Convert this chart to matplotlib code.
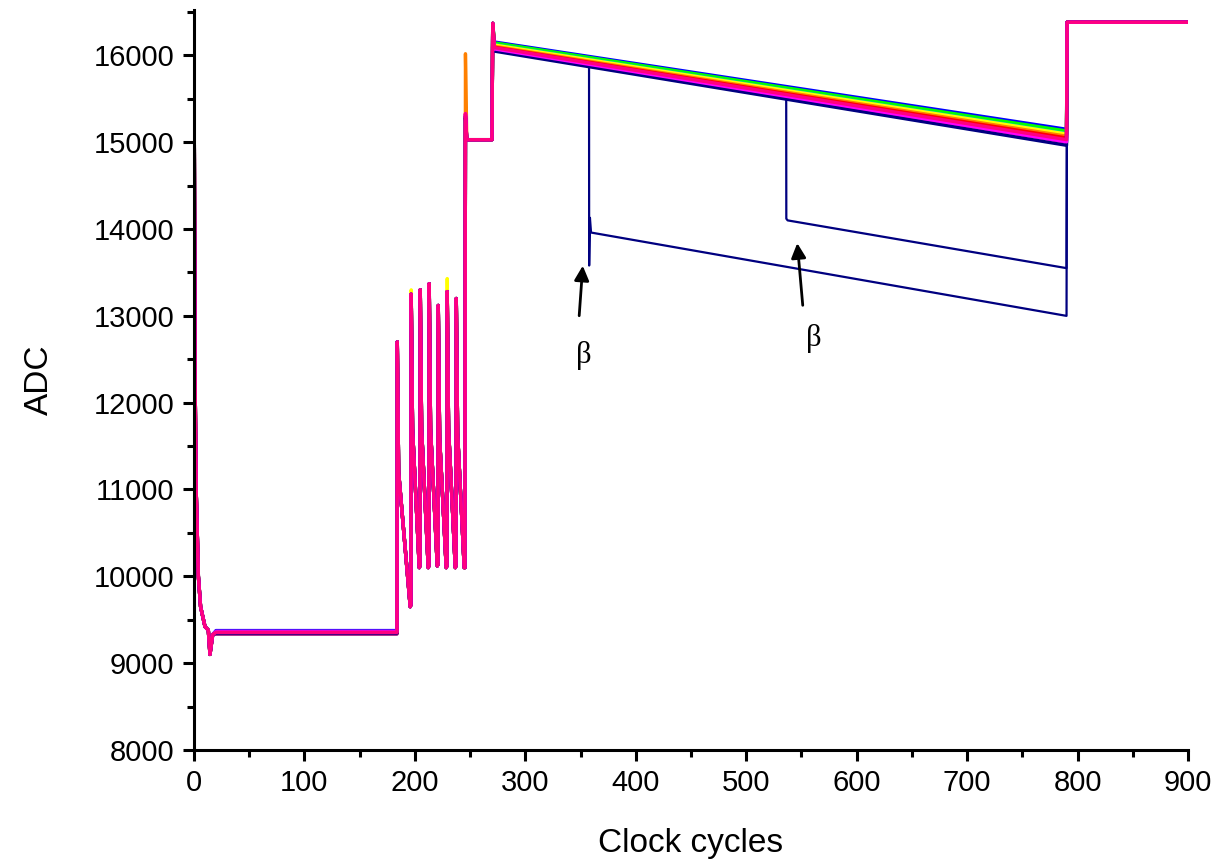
import numpy as np
import matplotlib
matplotlib.use("Agg")
import matplotlib.pyplot as plt
from matplotlib.ticker import MultipleLocator

# ---- data (ADC counts vs clock cycles) ----
# reset / settling at the start
drop_x = [0, 1, 2, 4, 6, 10, 13, 14.5, 17, 20]
drop_y = [16383, 12300, 11000, 10000, 9650, 9420, 9380, 9100, 9330, 9360]

# oscillation burst (rise positions, peaks, value just after peak, troughs)
rise_x = [183.8, 196.4, 204.6, 212.7, 220.9, 229.0, 237.2, 245.3]
peaks = [12700, 13250, 13300, 13370, 13120, 13280, 13200]
peaks_yellow = [12650, 13300, 13300, 13350, 13100, 13430, 13200]
knees = [11200, 11700, 11700, 11700, 11600, 11700, 11650]
troughs = [9650, 10100, 10100, 10120, 10100, 10100, 10100]

# plateau and ramp
plateau_x = [247, 269.8]
plateau_y = 15030
ramp_x = [270.5, 272, 790]
ramp_top = 16370
saturate_x = [790.5, 900]
saturate_y = 16383

# per-trace values: colour, baseline, spike at 245, ramp start, ramp end
trace_colors = ["#0000ff", "#00ff00", "#00c8c8", "#808000", "#ffff00",
                "#ff8000", "#ff0000", "#8000ff", "#800080", "#000080",
                "#ff00ff", "#ff0080"]
trace_base = [9375, 9355, 9365, 9345, 9360, 9355, 9340, 9370, 9335, 9350, 9360, 9355]
trace_spike = [15300, 15250, 15300, 15280, 15330, 16020, 15300, 15320, 15300, 15280, 15330, 15330]
trace_start = [16155, 16145, 16125, 16115, 16120, 16105, 16095, 16080, 16070, 16050, 16075, 16090]
trace_end = [15150, 15130, 15100, 15085, 15095, 15070, 15050, 15020, 15000, 14965, 15005, 15030]

# beta events (navy traces)
beta1_x = [272, 357.7, 357.8, 358.5, 359.5, 790, 790.5, 900]
beta1_y = [16080, 15880, 13580, 14130, 13960, 13000, 16383, 16383]
beta2_x = [272, 536.2, 536.3, 537.5, 790, 790.5, 900]
beta2_y = [16070, 15560, 14120, 14100, 13550, 16383, 16383]


def pre_ramp(base, spike, peak_list):
    xs = list(drop_x)
    ys = list(drop_y[:-1]) + [base]
    for i in range(len(peak_list)):
        nxt = rise_x[i + 1]
        xs += [rise_x[i], rise_x[i] + 0.3, rise_x[i] + 1.5, nxt - 0.6]
        ys += [base if i == 0 else troughs[i - 1] + 20, peak_list[i], knees[i], troughs[i]]
    xs += [rise_x[-1], rise_x[-1] + 0.5, plateau_x[0], plateau_x[1]]
    ys += [troughs[-1], spike, plateau_y, plateau_y]
    xs += [ramp_x[0]]
    ys += [ramp_top]
    return xs, ys


fig = plt.figure(figsize=(12.16, 8.6), dpi=100)
ax = fig.add_axes([0.1595, 0.128, 0.8175, 0.86])

# beta traces first (underneath the bundle)
for bx, by in [(beta1_x, beta1_y), (beta2_x, beta2_y)]:
    xs, ys = pre_ramp(9350, 15300, peaks)
    ax.plot(xs + bx, ys + by, color="#000080", lw=1.6)

for i, c in enumerate(trace_colors):
    pk = peaks_yellow if c == "#ffff00" else peaks
    xs, ys = pre_ramp(trace_base[i], trace_spike[i], pk)
    xs = xs + ramp_x[1:] + saturate_x
    ys = ys + [trace_start[i], trace_end[i]] + [saturate_y, saturate_y]
    ax.plot(xs, ys, color=c, lw=2.4)

# annotations
ax.annotate("", xy=(352.2, 13610), xytext=(348.6, 12970),
            arrowprops=dict(arrowstyle="-|>", color="black", lw=2, mutation_scale=22))
ax.annotate("", xy=(546, 13870), xytext=(551.4, 13090),
            arrowprops=dict(arrowstyle="-|>", color="black", lw=2, mutation_scale=22))
ax.text(353, 12545, "β", fontsize=22, family="Liberation Serif", ha="center", va="center")
ax.text(561, 12740, "β", fontsize=22, family="Liberation Serif", ha="center", va="center")

ax.set_xlim(0, 900)
ax.set_ylim(8000, 16520)
ax.xaxis.set_major_locator(MultipleLocator(100))
ax.xaxis.set_minor_locator(MultipleLocator(50))
ax.yaxis.set_major_locator(MultipleLocator(1000))
ax.yaxis.set_minor_locator(MultipleLocator(500))
for s in ["top", "right"]:
    ax.spines[s].set_visible(False)
for s in ["left", "bottom"]:
    ax.spines[s].set_linewidth(2.2)
ax.tick_params(which="major", direction="out", length=8, width=2.2,
               labelsize=21, pad=6)
ax.tick_params(which="minor", direction="out", length=5, width=2.2)
for lab in ax.get_xticklabels() + ax.get_yticklabels():
    lab.set_family("Liberation Sans")

ax.set_xlabel("Clock cycles", fontsize=24, family="Liberation Sans", labelpad=22)
ax.set_ylabel("ADC", fontsize=24, family="Liberation Sans", labelpad=28)

fig.savefig("out.png", dpi=100)
